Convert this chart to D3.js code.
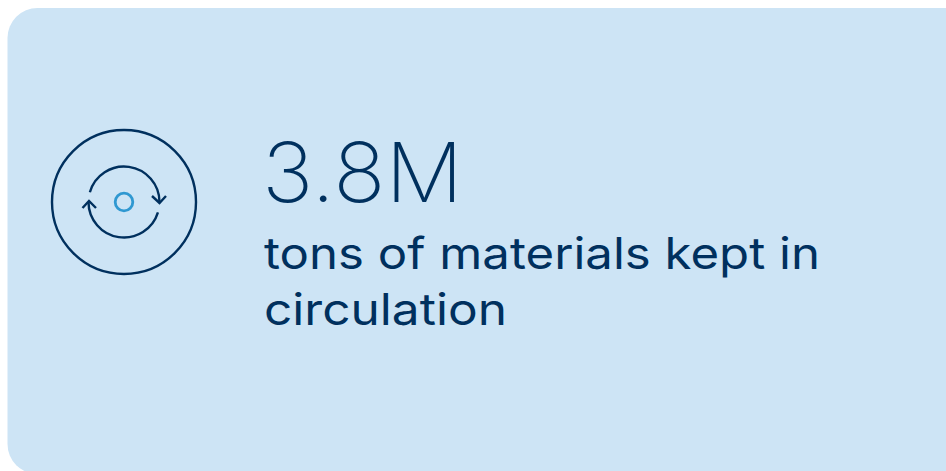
<!DOCTYPE html>
<html>
<head>
<meta charset="utf-8">
<style>
  html, body { margin: 0; padding: 0; background: #fff; overflow: hidden; }
  svg { display: block; }
</style>
<script src="https://cdn.jsdelivr.net/npm/d3@7"></script>
</head>
<body>
<svg id="card"></svg>
<script>
// content
const statValue = ["3.8M"];
const statLabel = ["tons of materials kept in", "circulation"];

const w = 946, h = 471;
const navy = "#00305e", blue = "#2f98d1", bg = "#cde4f5";
const deg = Math.PI / 180;

const svg = d3.select("#card").attr("width", w).attr("height", h);

// card runs off the right and bottom edges
svg.append("rect")
  .attr("x", 7.5).attr("y", 8)
  .attr("width", 975).attr("height", 466)
  .attr("rx", 30).attr("ry", 30)
  .attr("fill", bg);

// icon
const icon = svg.append("g")
  .attr("transform", "translate(124,202)")
  .attr("fill", "none")
  .attr("stroke", navy)
  .attr("stroke-width", 2.4);

icon.append("circle").attr("r", 72);
icon.append("circle").attr("r", 8.8).attr("stroke", blue).attr("stroke-width", 2.8);

const arc = d3.arc().innerRadius(35.5).outerRadius(35.5);
icon.append("path").attr("d", arc({ startAngle: -74 * deg, endAngle: 90 * deg }));
icon.append("path").attr("d", arc({ startAngle: 107 * deg, endAngle: 270 * deg }));

const chevron = d3.line();
icon.append("path").attr("d", chevron([[28, -6], [35.5, 1], [42, -6]]));
icon.append("path").attr("d", chevron([[-41.5, 6], [-35, -1], [-28, 6]]));

// text, stretched to the wide face of the original
svg.selectAll(".stat")
  .data(statValue)
  .join("text")
  .attr("class", "stat")
  .attr("x", 262)
  .attr("y", 202)
  .attr("font-family", "Inter")
  .attr("font-weight", 250)
  .attr("font-size", 83)
  .attr("fill", navy)
  .attr("textLength", 201)
  .attr("lengthAdjust", "spacingAndGlyphs")
  .text(d => d);

const labelWidth = [556, 243];
svg.selectAll(".label")
  .data(statLabel)
  .join("text")
  .attr("class", "label")
  .attr("x", 264)
  .attr("y", (d, i) => 269 + i * 56)
  .attr("font-family", "Inter")
  .attr("font-weight", 400)
  .attr("font-size", 44)
  .attr("fill", navy)
  .attr("textLength", (d, i) => labelWidth[i])
  .attr("lengthAdjust", "spacingAndGlyphs")
  .text(d => d);
</script>
</body>
</html>
